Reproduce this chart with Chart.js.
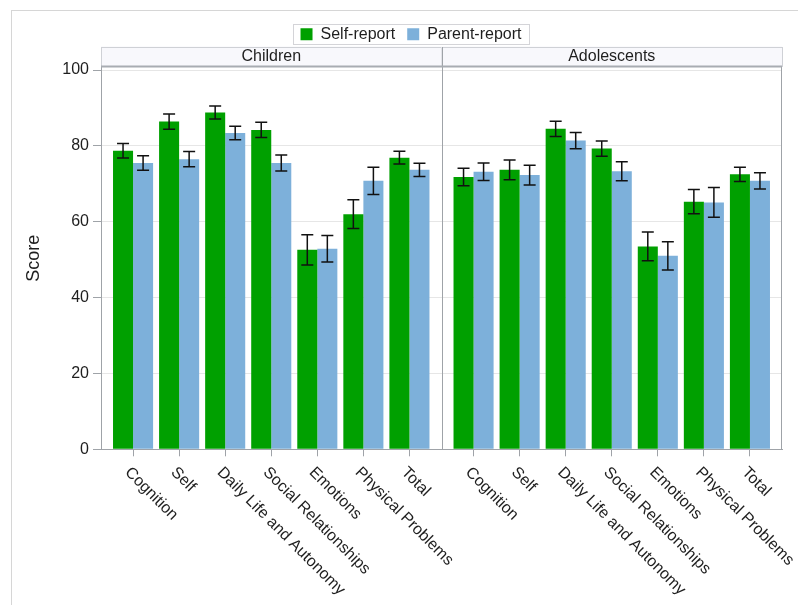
<!DOCTYPE html>
<html>
<head>
<meta charset="utf-8">
<script src="https://cdn.jsdelivr.net/npm/chart.js@4.4.1/dist/chart.umd.min.js"></script>
<style>
  html, body { margin: 0; padding: 0; background: #fff; overflow: hidden; width: 798px; height: 605px; }
  canvas { display: block; }
</style>
</head>
<body>
<canvas id="kidscreen" width="822" height="605"></canvas>
<script>
// Domains shown on each panel's category axis
const domains = ['Cognition', 'Self', 'Daily Life and Autonomy', 'Social Relationships',
                 'Emotions', 'Physical Problems', 'Total'];
const panels = ['Children', 'Adolescents'];
const seriesNames = ['Self-report', 'Parent-report'];
const yTicks = [0, 20, 40, 60, 80, 100];

// Mean scores and error half-widths
const childSelf      = [78.7, 86.4, 88.8, 84.2, 52.6, 62.0, 76.9];
const childSelfErr   = [1.9, 2.0, 1.7, 2.0, 4.0, 3.8, 1.7];
const childParent    = [75.5, 76.5, 83.4, 75.5, 52.9, 70.8, 73.7];
const childParentErr = [1.9, 2.0, 1.8, 2.1, 3.5, 3.6, 1.75];
const adolSelf       = [71.8, 73.7, 84.5, 79.3, 53.5, 65.3, 72.5];
const adolSelfErr    = [2.3, 2.6, 2.0, 2.0, 3.8, 3.2, 1.9];
const adolParent     = [73.2, 72.3, 81.4, 73.3, 51.0, 65.1, 70.8];
const adolParentErr  = [2.3, 2.6, 2.15, 2.5, 3.75, 3.9, 2.15];

const GREEN = '#00a000';
const BLUE = '#7db0da';
const TEXT = '#1e1e1e';
const AXIS = '#9fa3a8';

Chart.defaults.font.family = '"Liberation Sans", Arial, sans-serif';
Chart.defaults.font.size = 16;
Chart.defaults.color = TEXT;

const catIndex = domains.map((_, i) => i);
const edgePad = 0.696; // room between the outer bars and the panel edge, in category units

function panelAxis() {
  return {
    type: 'linear', position: 'bottom', stack: 'panels', stackWeight: 1,
    offset: false,
    min: -edgePad, max: domains.length - 1 + edgePad,
    afterBuildTicks: s => { s.ticks = catIndex.map(v => ({ value: v })); },
    afterFit: s => { s.height = 155.7; },
    ticks: { display: false },
    grid: { offset: false, drawOnChartArea: false, drawTicks: true, tickLength: 7, tickColor: AXIS },
    border: { color: AXIS, width: 1 }
  };
}

function headerAxis(text) {
  return {
    type: 'linear', position: 'top', stack: 'headers', stackWeight: 1,
    offset: false,
    ticks: { display: false },
    grid: { display: false, drawTicks: false },
    border: { display: false },
    title: { display: true, text: text, font: { size: 16 }, color: TEXT, padding: { top: -5.4, bottom: 0 } },
    afterFit: s => { s.height = 14.7; }
  };
}

// Panel strips, frames, error bars and slanted domain labels
const panelDecor = {
  id: 'panelDecor',
  beforeDraw(chart) {
    const { ctx, chartArea: a } = chart;
    ctx.save();
    ctx.strokeStyle = '#d6d6d6';
    ctx.lineWidth = 1;
    ctx.strokeRect(11.5, 10.5, chart.width, chart.height);

    // strip headers
    const hTop = a.top - 20.5;
    ['xc', 'xa'].forEach(id => {
      const s = chart.scales[id];
      ctx.fillStyle = '#f8f8fc';
      ctx.fillRect(s.left, hTop, s.right - s.left, 20);
      ctx.strokeStyle = '#cfd1d6';
      ctx.strokeRect(Math.round(s.left) + 0.5, Math.round(hTop) + 0.5, Math.round(s.right - s.left) - 1, 19);
    });

    // legend frame
    const hb = chart.legend.legendHitBoxes;
    if (hb && hb.length) {
      const first = hb[0], last = hb[hb.length - 1];
      const cy = first.top + first.height / 2;
      const x0 = Math.round(first.left - 7.5) + 0.5;
      const x1 = Math.round(last.left + last.width + 7.5) + 0.5;
      const y0 = Math.round(cy - 10) + 0.5;
      ctx.fillStyle = '#fff';
      ctx.fillRect(x0, y0, x1 - x0, 20);
      ctx.strokeStyle = '#d4d4d8';
      ctx.strokeRect(x0, y0, x1 - x0, 20);
    }
    ctx.restore();
  },
  afterDatasetsDraw(chart) {
    const { ctx } = chart;
    const y = chart.scales.y;
    ctx.save();
    ctx.strokeStyle = '#111';
    ctx.lineWidth = 1.5;
    chart.data.datasets.forEach((ds, di) => {
      const meta = chart.getDatasetMeta(di);
      meta.data.forEach((bar, i) => {
        const v = ds.data[i], e = ds.errors[i];
        const yt = y.getPixelForValue(v + e), yb = y.getPixelForValue(v - e);
        const x = bar.x, w = 6;
        ctx.beginPath();
        ctx.moveTo(x, yt); ctx.lineTo(x, yb);
        ctx.moveTo(x - w, yt); ctx.lineTo(x + w, yt);
        ctx.moveTo(x - w, yb); ctx.lineTo(x + w, yb);
        ctx.stroke();
      });
    });
    ctx.restore();
  },
  afterDraw(chart) {
    const { ctx, chartArea: a } = chart;
    const xc = chart.scales.xc, xa = chart.scales.xa;
    ctx.save();
    // panel divider and right edge
    ctx.strokeStyle = AXIS;
    ctx.lineWidth = 1;
    ctx.beginPath();
    const xd = Math.round(xc.right) + 0.5;
    ctx.moveTo(xd, a.top - 20); ctx.lineTo(xd, a.bottom);
    const xr = Math.round(xa.right) - 0.5;
    ctx.moveTo(xr, a.top); ctx.lineTo(xr, a.bottom);
    ctx.stroke();
    // heavier rule under the strip headers
    ctx.strokeStyle = '#a8acb2';
    ctx.lineWidth = 2;
    ctx.beginPath();
    ctx.moveTo(xc.left, a.top - 0.5); ctx.lineTo(xa.right, a.top - 0.5);
    ctx.stroke();

    // slanted domain labels
    ctx.font = '16px "Liberation Sans", Arial, sans-serif';
    ctx.fillStyle = TEXT;
    ctx.textAlign = 'left';
    ctx.textBaseline = 'top';
    [xc, xa].forEach(s => {
      domains.forEach((d, i) => {
        ctx.save();
        ctx.translate(s.getPixelForValue(i), a.bottom + 15);
        ctx.rotate(Math.PI / 4);
        ctx.fillText(d, 0, 0);
        ctx.restore();
      });
    });
    ctx.restore();
  }
};

// Each panel's pair of bars is grouped on its own x axis
function bars(label, values, errors, color, axis) {
  return {
    label, data: values, errors, indexAxis: 'x', xAxisID: axis, yAxisID: 'y',
    backgroundColor: color, borderWidth: 0,
    categoryPercentage: 0.87, barPercentage: 1
  };
}

new Chart(document.getElementById('kidscreen'), {
  type: 'bar',
  data: {
    labels: catIndex,
    datasets: [
      bars(seriesNames[0], childSelf, childSelfErr, GREEN, 'xc'),
      bars(seriesNames[1], childParent, childParentErr, BLUE, 'xc'),
      bars(seriesNames[0], adolSelf, adolSelfErr, GREEN, 'xa'),
      bars(seriesNames[1], adolParent, adolParentErr, BLUE, 'xa')
    ]
  },
  options: {
    // chart-level axis key lets both panels group their bars independently;
    // every dataset sets its own indexAxis above
    indexAxis: 'y',
    responsive: false,
    animation: false,
    events: [],
    layout: { padding: { top: 14.3, left: 0, right: 0, bottom: 0 } },
    plugins: {
      legend: {
        position: 'top',
        labels: {
          boxWidth: 12, boxHeight: 12, padding: 12, color: TEXT,
          font: { size: 16 },
          filter: item => item.datasetIndex < 2
        }
      },
      tooltip: { enabled: false }
    },
    scales: {
      xc: panelAxis(),
      xa: panelAxis(),
      // top strips are stacked right-to-left, so the second panel's strip is listed first
      ha: headerAxis(panels[1]),
      hc: headerAxis(panels[0]),
      y: {
        type: 'linear', position: 'left', stacked: false, offset: false,
        min: 0, max: 100.8,
        afterBuildTicks: s => { s.ticks = yTicks.map(v => ({ value: v })); },
        afterFit: s => { s.width = 101; },
        ticks: { padding: 4, color: TEXT, font: { size: 16 } },
        grid: { offset: false, color: '#e6e6e6', tickColor: AXIS, tickLength: 8, drawTicks: true },
        border: { color: AXIS, width: 1 },
        title: { display: true, text: 'Score', font: { size: 18 }, color: TEXT, padding: { top: 23.2, bottom: 0 } }
      },
      pad: {
        type: 'linear', position: 'right', offset: false,
        ticks: { display: false },
        grid: { display: false, drawTicks: false, offset: false },
        border: { display: false },
        afterFit: s => { s.width = 40; }
      }
    }
  },
  plugins: [panelDecor]
});
</script>
</body>
</html>
